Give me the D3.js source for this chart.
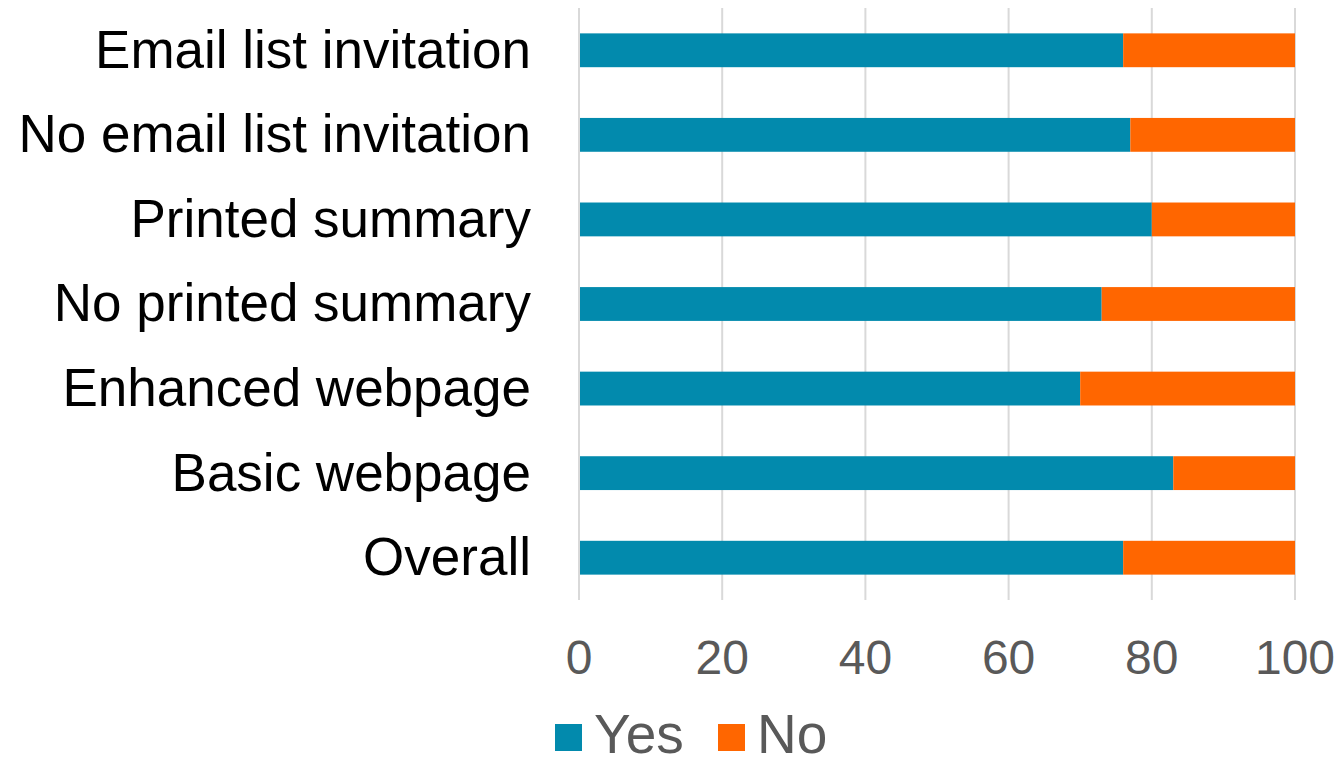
<!DOCTYPE html>
<html>
<head>
<meta charset="utf-8">
<script src="https://cdn.jsdelivr.net/npm/d3@7"></script>
<style>
	body { margin: 0; background: #ffffff; }
	svg { display: block; font-family: 'Liberation Sans', Arial, sans-serif; }
	.cat-label { font-size: 53px; fill: #000000; }
	.tick-label { font-size: 48px; fill: #595959; }
	.legend-text { font-size: 55px; fill: #595959; }
</style>
</head>
<body>
<svg id="chart-svg" width="1337" height="757"></svg>
<script>
// categories top to bottom
const CATEGORIES = [
	'Email list invitation',
	'No email list invitation',
	'Printed summary',
	'No printed summary',
	'Enhanced webpage',
	'Basic webpage',
	'Overall'
];
const YES_VALUES = [76, 77, 80, 73, 70, 83, 76];
const NO_VALUES = [24, 23, 20, 27, 30, 17, 24];
const X_TICKS = [0, 20, 40, 60, 80, 100];
const SERIES = ['Yes', 'No'];
const COLORS = ['#028aad', '#ff6600'];

const svg = d3.select('#chart-svg');

const PLOT = { left: 579, right: 1295, top: 8, bottom: 600 };

const xScale = d3.scaleLinear().domain([0, 100]).range([PLOT.left, PLOT.right]);
const yScale = d3.scaleBand().domain(CATEGORIES).range([PLOT.top, PLOT.bottom]).paddingInner(0.6).paddingOuter(0.3);

// gridlines
svg
	.append('g')
	.selectAll('line')
	.data(X_TICKS)
	.enter()
	.append('line')
	.attr('x1', (d) => xScale(d))
	.attr('x2', (d) => xScale(d))
	.attr('y1', PLOT.top)
	.attr('y2', PLOT.bottom)
	.attr('stroke', '#d9d9d9')
	.attr('stroke-width', 2);

// stacked bars
const rows = CATEGORIES.map((c, i) => ({ cat: c, Yes: YES_VALUES[i], No: NO_VALUES[i] }));
const stacked = d3.stack().keys(SERIES)(rows);

svg
	.append('g')
	.selectAll('g')
	.data(stacked)
	.enter()
	.append('g')
	.attr('fill', (d, i) => COLORS[i])
	.selectAll('rect')
	.data((d) => d)
	.enter()
	.append('rect')
	.attr('x', (d) => xScale(d[0]) + (d[0] === 0 ? 1 : 0))
	.attr('width', (d) => xScale(d[1]) - xScale(d[0]) - (d[0] === 0 ? 1 : 0))
	.attr('y', (d) => yScale(d.data.cat))
	.attr('height', yScale.bandwidth());

// category labels
svg
	.append('g')
	.selectAll('text')
	.data(CATEGORIES)
	.enter()
	.append('text')
	.attr('class', 'cat-label')
	.attr('x', 531)
	.attr('y', (d) => yScale(d) + yScale.bandwidth() / 2)
	.attr('dy', '0.33em')
	.attr('text-anchor', 'end')
	.text((d) => d);

// x tick labels
svg
	.append('g')
	.selectAll('text')
	.data(X_TICKS)
	.enter()
	.append('text')
	.attr('class', 'tick-label')
	.attr('x', (d) => xScale(d))
	.attr('y', 674)
	.attr('text-anchor', 'middle')
	.text((d) => d);

// legend
const legendX = [555, 718];
const legendG = svg.append('g').attr('id', 'legend');
SERIES.forEach((s, i) => {
	legendG
		.append('rect')
		.attr('x', legendX[i])
		.attr('y', 724)
		.attr('width', 27)
		.attr('height', 27)
		.attr('fill', COLORS[i]);
	legendG
		.append('text')
		.attr('class', 'legend-text')
		.attr('x', legendX[i] + 39)
		.attr('y', 753)
		.text(s);
});
</script>
</body>
</html>
